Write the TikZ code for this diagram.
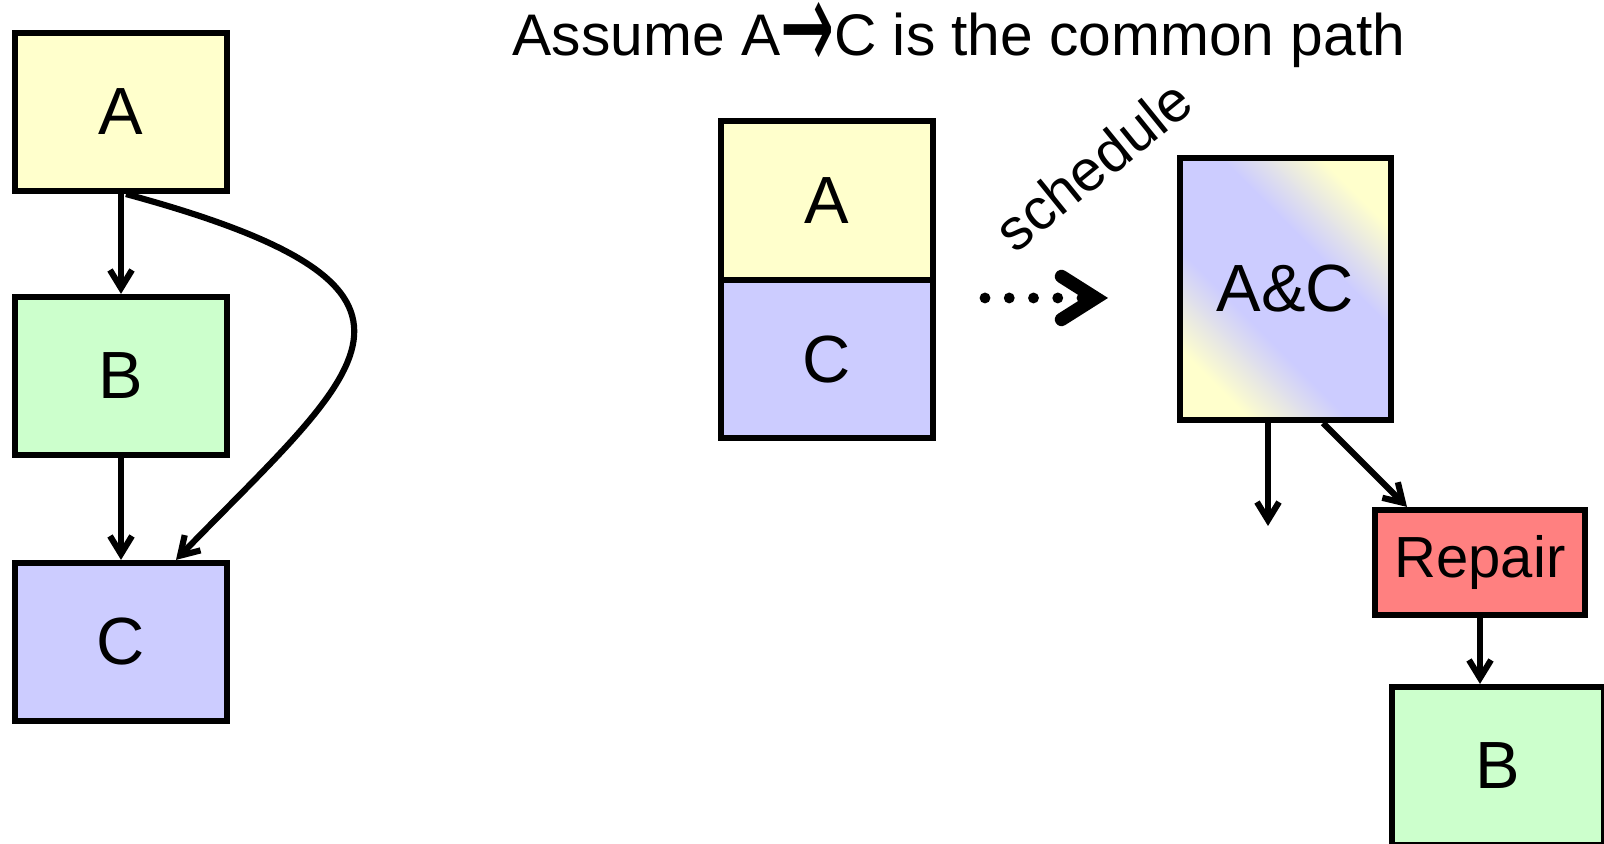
\documentclass[tikz,border=0pt]{standalone}
\usepackage{fontspec}
\usepackage{graphicx}
\setmainfont{Liberation Sans}
\newfontfamily\arrowfont{DejaVu Sans}
\usetikzlibrary{arrows.meta}
\definecolor{cYEL}{RGB}{255,255,204}
\definecolor{cGRN}{RGB}{204,255,204}
\definecolor{cBLU}{RGB}{204,204,255}
\definecolor{cRED}{RGB}{255,128,128}
\pgfdeclareverticalshading{acgrad}{100bp}{color(0bp)=(cYEL); color(25bp)=(cYEL); color(40bp)=(cBLU);
  color(60bp)=(cBLU); color(75bp)=(cYEL); color(100bp)=(cYEL)}
\tikzset{
  blk/.style={draw,line width=1.75pt,inner sep=0pt,minimum width=2.12cm,minimum height=1.58cm,font=\fontsize{19}{22}\selectfont},
  flow/.style={line width=1.75pt,-{Straight Barb[length=0.18cm,width=0.22cm]}},
  sched/.style={line width=3.1pt,line cap=round,dash pattern=on 0pt off 6.9pt,
    -{Straight Barb[length=0.34cm,width=0.43cm,line width=3.8pt,line cap=round,line join=miter]}}
}
\begin{document}
\begin{tikzpicture}
\useasboundingbox (0,0) rectangle (16.04,8.44);
\node[blk,fill=cYEL] (a) at (1.21,7.32) {A};
\node[blk,fill=cGRN] (b) at (1.21,4.68) {B};
\node[blk,fill=cBLU] (c) at (1.21,2.02) {C};
\draw[flow] (a) -- (b);
\draw[flow] (b) -- (c);
\draw[flow] ([xshift=0.05cm]a.south) .. controls (4.80,5.54) and (3.60,4.74) .. ([xshift=0.55cm]c.north);
\node[font=\fontsize{16.7}{20}\selectfont,anchor=base] (title) at (9.59,7.88)
  {Assume A{\arrowfont\raisebox{-0.24em}{\scalebox{1.1}[2.2]{→}}}C is the common path};
\node[blk,fill=cYEL,minimum height=1.59cm] (ma) at (8.267,6.431) {A};
\node[blk,fill=cBLU,anchor=north] (mc) at ([yshift=1.75pt]ma.south) {C};
\coordinate (s0) at (9.85,5.46);
\coordinate (s1) at (11.08,5.46);
\draw[sched] (s0) -- (s1);
\node[font=\fontsize{16.5}{19}\selectfont,rotate=39] (lbl) at (10.93,6.79) {schedule};
\node[blk,shade,shading=acgrad,shading angle=-45,minimum width=2.11cm,minimum height=2.62cm] (ac) at (12.855,5.55) {A\&C};
\coordinate (dn) at (12.68,3.18);
\draw[flow] (ac.south -| dn) -- (dn);
\node[blk,fill=cRED,minimum width=2.10cm,minimum height=1.05cm,font=\fontsize{16.5}{19}\selectfont] (rep) at (14.80,2.815) {Repair};
\draw[flow] ([xshift=0.375cm]ac.south) -- ([xshift=-0.73cm]rep.north);
\node[blk,fill=cGRN] (rb) at (14.98,0.78) {B};
\draw[flow] (rep.south) -- (rep.south |- rb.north);
\end{tikzpicture}
\end{document}
